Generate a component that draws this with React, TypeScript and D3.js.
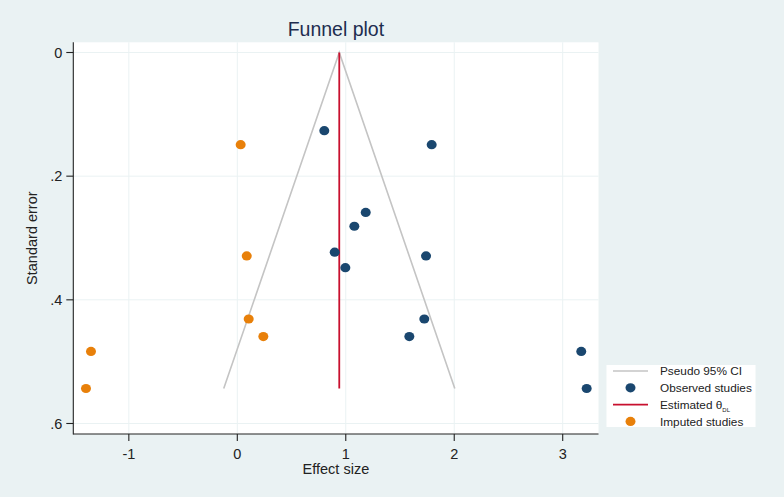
import React from "react";
import * as d3 from "d3";

const observedEffect = [0.802, 1.792, 1.184, 1.079, 0.898, 1.74, 0.996, 1.724, 1.586, 3.171, 3.221];
const observedSE = [0.1265, 0.149, 0.2586, 0.281, 0.323, 0.329, 0.348, 0.431, 0.4595, 0.4835, 0.5434];
const imputedEffect = [0.031, 0.087, 0.105, 0.24, -1.349, -1.395];
const imputedSE = [0.149, 0.329, 0.431, 0.4595, 0.4835, 0.5434];
const thetaDL = 0.94;
const maxSE = 0.5434;
const xTicks = [-1, 0, 1, 2, 3];
const xTickLabels = ["-1", "0", "1", "2", "3"];
const yTicks = [0, 0.2, 0.4, 0.6];
const yTickLabels = ["0", ".2", ".4", ".6"];
const legendLabels = ["Pseudo 95% CI", "Observed studies", "Estimated θ", "Imputed studies"];

const W = 784;
const H = 497;
const BG = "#eaf2f3";
const NAVY = "#1a476f";
const ORANGE = "#e8800a";
const RED = "#c8102e";
const GRAY = "#c4c4c4";
const FONT = "'Liberation Sans', Arial, Helvetica, sans-serif";

export default function App() {
  const x = d3.scaleLinear().domain([-1.512, 3.33]).range([73.3, 598.5]);
  const y = d3.scaleLinear().domain([-0.0165, 0.617]).range([42.3, 434]);
  const [x0, x1] = x.range();
  const [y0, y1] = y.range();

  const funnel = d3.line<[number, number]>().x((d) => x(d[0])).y((d) => y(d[1]));
  const funnelPts: [number, number][] = [
    [thetaDL - 1.96 * maxSE, maxSE],
    [thetaDL, 0],
    [thetaDL + 1.96 * maxSE, maxSE],
  ];

  const obs = observedEffect.map((e, i) => ({ e, s: observedSE[i] }));
  const imp = imputedEffect.map((e, i) => ({ e, s: imputedSE[i] }));

  const lgX = 606.5, lgY = 365, lgW = 149, lgH = 62;
  const rowY = (i: number) => lgY + 6 + i * 16.8;

  return (
    <svg
      width={W}
      height={H}
      style={{ position: "absolute", left: 0, top: 0, fontFamily: FONT }}
    >
      <rect x={0} y={0} width={W} height={H} fill={BG} />
      <rect x={x0} y={y0} width={x1 - x0} height={y1 - y0} fill="#ffffff" />
      {xTicks.map((t) => (
        <line key={"gx" + t} x1={x(t)} x2={x(t)} y1={y0} y2={y1} stroke={BG} strokeWidth={1} />
      ))}
      {yTicks.map((t) => (
        <line key={"gy" + t} x1={x0} x2={x1} y1={y(t)} y2={y(t)} stroke={BG} strokeWidth={1} />
      ))}
      <path d={funnel(funnelPts) || ""} fill="none" stroke={GRAY} strokeWidth={1.6} />
      <line x1={x(thetaDL)} x2={x(thetaDL)} y1={y(0)} y2={y(maxSE)} stroke={RED} strokeWidth={1.8} />
      {obs.map((d, i) => (
        <ellipse key={"o" + i} cx={x(d.e)} cy={y(d.s)} rx={5} ry={4.6} fill={NAVY} />
      ))}
      {imp.map((d, i) => (
        <ellipse key={"i" + i} cx={x(d.e)} cy={y(d.s)} rx={5} ry={4.6} fill={ORANGE} />
      ))}
      {/* axes */}
      <line x1={x0} x2={x0} y1={y0} y2={y1 + 0.5} stroke="#222" strokeWidth={1.1} />
      <line x1={x0} x2={x1} y1={y1} y2={y1} stroke="#222" strokeWidth={1.1} />
      {yTicks.map((t, i) => (
        <g key={"yt" + t}>
          <line x1={x0 - 7} x2={x0} y1={y(t)} y2={y(t)} stroke="#222" strokeWidth={1.1} />
          <text x={x0 - 11} y={y(t)} dy="0.35em" textAnchor="end" fontSize={14.5} fill="#222">
            {yTickLabels[i]}
          </text>
        </g>
      ))}
      {xTicks.map((t, i) => (
        <g key={"xt" + t}>
          <line x1={x(t)} x2={x(t)} y1={y1} y2={y1 + 7} stroke="#222" strokeWidth={1.1} />
          <text x={x(t)} y={y1 + 20} dy="0.35em" textAnchor="middle" fontSize={14.5} fill="#222">
            {xTickLabels[i]}
          </text>
        </g>
      ))}
      <text x={(x0 + x1) / 2} y={469} dy="0.35em" textAnchor="middle" fontSize={14.5} fill="#222">
        Effect size
      </text>
      <text
        transform={`translate(32,${(y0 + y1) / 2}) rotate(-90)`}
        dy="0.35em"
        textAnchor="middle"
        fontSize={14.5}
        fill="#222"
      >
        Standard error
      </text>
      <text x={(x0 + x1) / 2} y={29} dy="0.35em" textAnchor="middle" fontSize={19.5} fill="#1e2d4f">
        Funnel plot
      </text>
      {/* legend */}
      <rect x={lgX} y={lgY} width={lgW} height={lgH} fill="#ffffff" />
      <line x1={613} x2={648} y1={rowY(0)} y2={rowY(0)} stroke={GRAY} strokeWidth={1.6} />
      <ellipse cx={630.5} cy={rowY(1)} rx={5} ry={4.6} fill={NAVY} />
      <line x1={613} x2={648} y1={rowY(2)} y2={rowY(2)} stroke={RED} strokeWidth={1.8} />
      <ellipse cx={630.5} cy={rowY(3)} rx={5} ry={4.6} fill={ORANGE} />
      {legendLabels.map((l, i) => (
        <text key={"lg" + i} x={660} y={rowY(i)} dy="0.35em" fontSize={11.8} fill="#222">
          {l}
          {i === 2 ? (
            <tspan fontSize={6} dy="3">
              DL
            </tspan>
          ) : null}
        </text>
      ))}
    </svg>
  );
}
